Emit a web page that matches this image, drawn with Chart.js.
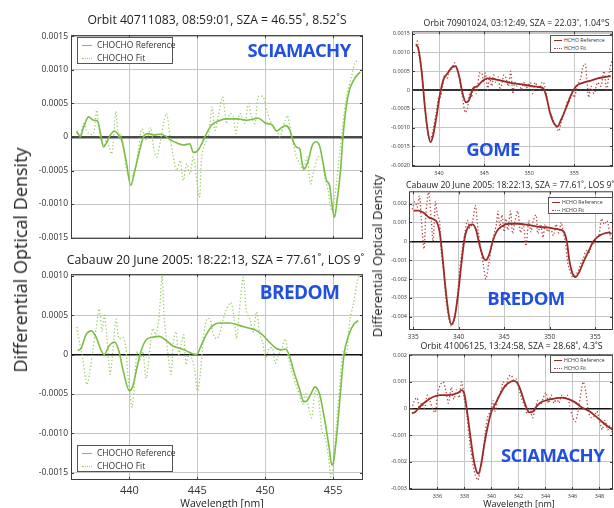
<!DOCTYPE html>
<html>
<head>
<meta charset="utf-8">
<script src="https://cdn.jsdelivr.net/npm/chart.js@4.4.1/dist/chart.umd.min.js"></script>
<style>
  body { margin: 0; width: 614px; height: 508px; overflow: hidden; position: relative; background: #fff;
         font-family: "Open Sans", "DejaVu Sans", sans-serif; color: #222; }
  canvas { position: absolute; }
  .txt { position: absolute; white-space: nowrap; }
  .ctr { transform: translate(-50%, -50%); }
  .inst { font-weight: 700; color: #2150e0; letter-spacing: -0.6px; }
  .ylab { transform: translate(-50%, -50%) rotate(-90deg); }
  .legend { position: absolute; border: 1px solid #555; background: #fff; box-sizing: border-box; }
  .legend .row { position: absolute; white-space: nowrap; color: #333; }
  .legend .smp { position: absolute; height: 0; }
</style>
</head>
<body>
<script>
// --- CHOCHO, SCIAMACHY (haut gauche) ---
const glySciaRefWl = [436.1, 436.4, 436.6, 437.0, 437.35, 437.65, 437.85, 438.1, 438.3, 438.6, 438.9, 439.2, 439.45, 439.75, 440.1, 440.4, 440.8, 441.1, 441.4, 441.75, 442.25, 442.6, 443.0, 443.5, 444.0, 444.45, 444.7, 445.0, 445.3, 445.7, 446.05, 446.55, 447.15, 447.9, 448.6, 449.5, 450.0, 450.5, 450.85, 451.2, 451.5, 451.8, 452.05, 452.3, 452.55, 452.7, 452.85, 453.15, 453.45, 453.75, 454.0, 454.25, 454.5, 454.75, 454.9, 455.1, 455.3, 455.55, 455.7, 455.95, 456.2, 456.55, 456.8, 457.0];
const glySciaRef = [0.00008, 0.00001, 0.00013, 0.0003, 0.00025, 0.00024, 0.00008, -0.00015, -0.00009, 0.00003, 0.00009, 0.00003, -0.00006, -0.00035, -0.00072, -0.0005, -0.00016, 0.00003, 0.00005, 0.00003, 0.00004, 0.00002, -0.00004, -0.00009, -0.00012, -0.0001, -0.00023, -0.00021, -0.00011, 0.00006, 0.00018, 0.00024, 0.00027, 0.00027, 0.00025, 0.00028, 0.00021, 0.00018, 0.00009, 0.00014, 0.00017, 0.00011, -0.00006, -0.00015, -0.00018, -0.00037, -0.00048, -0.00037, -0.00013, -0.00007, -0.00013, -0.00037, -0.00064, -0.00073, -0.00098, -0.0012, -0.00093, -0.00049, -0.00006, 0.00043, 0.0007, 0.00086, 0.00093, 0.00097];
const glySciaFitWl = [436.13, 436.37, 436.62, 436.99, 437.35, 437.6, 437.84, 438.09, 438.33, 438.7, 438.99, 439.19, 439.36, 439.61, 439.85, 440.12, 440.42, 440.66, 440.91, 441.27, 441.57, 441.81, 442.01, 442.25, 442.57, 442.75, 442.99, 443.24, 443.48, 443.73, 443.97, 444.22, 444.46, 444.71, 445.15, 445.32, 445.56, 445.81, 446.1, 446.3, 446.54, 446.86, 447.16, 447.4, 447.65, 447.84, 448.14, 448.5, 448.75, 449.0, 449.24, 449.49, 449.85, 450.1, 450.47, 450.83, 451.08, 451.32, 451.62, 451.86, 452.06, 452.3, 452.55, 452.79, 453.09, 453.33, 453.58, 453.9, 454.14, 454.39, 454.63, 454.88, 455.12, 455.29, 455.61, 455.98, 456.35, 456.6, 456.84];
const glySciaFit = [0.0001, 0.0, 0.0002, 0.00005, 0.00005, 0.0004, 0.0, -0.00012, -0.00005, -0.00025, 0.00038, 0.0, 0.00005, -0.0002, -0.00055, -0.0006, -0.0005, -0.0002, 0.00012, -0.00005, 0.00014, -0.0002, -0.0003, -0.0001, 0.00025, 0.00035, 0.0, -0.0003, -0.0005, -0.00035, -0.00065, -0.0004, -0.00055, -0.0003, -0.0009, -0.0003, -0.0001, 0.0, 0.00045, 0.0001, 0.0003, 0.0006, 0.0002, 0.00035, 0.0003, 0.00005, 0.00035, 0.0002, 0.0005, 0.0003, 0.0002, 0.0006, 0.0006, 0.0004, 0.0002, 0.0001, 0.0, 0.00015, 0.00032, 0.0001, -0.0001, -0.0003, -0.0004, -0.0005, -0.0003, -0.0007, -0.0005, -0.0003, -0.0003, -0.0006, -0.0008, -0.0011, -0.0009, -0.0006, 0.0, 0.0006, 0.0009, 0.0011, 0.00115];

// --- CHOCHO, BREDOM (bas gauche) ---
const glyBredRefWl = [436.2, 436.45, 436.8, 437.2, 437.55, 437.9, 438.15, 438.5, 438.9, 439.2, 439.55, 440.0, 440.25, 440.55, 440.85, 441.2, 441.7, 442.2, 442.7, 443.2, 443.7, 444.15, 444.65, 444.95, 445.25, 445.65, 446.1, 446.6, 447.35, 448.1, 448.7, 449.3, 449.8, 450.3, 450.8, 451.15, 451.5, 451.75, 452.1, 452.5, 452.85, 453.1, 453.5, 453.65, 454.0, 454.35, 454.7, 454.9, 455.05, 455.3, 455.55, 455.8, 456.2, 456.55, 456.85];
const glyBredRef = [0.00005, 0.00008, 0.00025, 0.0003, 0.00022, 0.00006, 0.0, 0.00011, 0.00016, 0.00006, -0.00021, -0.00046, -0.0004, -0.00017, 0.00004, 0.00018, 0.00022, 0.00023, 0.00018, 0.00011, 0.00008, 0.00005, 0.00001, 0.0, 0.0001, 0.00025, 0.00036, 0.0004, 0.0004, 0.00037, 0.00034, 0.00031, 0.00025, 0.00016, 0.00008, 0.00006, 0.00007, 0.0, -0.00021, -0.00042, -0.0006, -0.00058, -0.00045, -0.00041, -0.0005, -0.0008, -0.00117, -0.0014, -0.00134, -0.00096, -0.00046, 0.0, 0.00027, 0.00039, 0.00043];
const glyBredFitWl = [436.13, 436.32, 436.57, 436.86, 437.06, 437.3, 437.55, 437.79, 437.99, 438.16, 438.33, 438.58, 438.77, 439.02, 439.22, 439.51, 439.71, 439.88, 440.07, 440.2, 440.37, 440.56, 440.74, 440.98, 441.23, 441.47, 441.72, 441.96, 442.21, 442.4, 442.57, 442.82, 443.06, 443.24, 443.43, 443.63, 443.8, 444.0, 444.17, 444.36, 444.61, 444.78, 445.02, 445.22, 445.44, 445.69, 445.93, 446.13, 446.37, 446.62, 446.91, 447.16, 447.48, 447.72, 447.89, 448.09, 448.38, 448.63, 448.87, 449.12, 449.36, 449.61, 449.8, 450.05, 450.29, 450.54, 450.74, 450.98, 451.23, 451.47, 451.72, 451.96, 452.26, 452.5, 452.75, 452.99, 453.24, 453.43, 453.68, 453.92, 454.17, 454.41, 454.66, 454.83, 455.02, 455.25, 455.49, 455.74, 455.98, 456.23, 456.47, 456.72, 456.91];
const glyBredFit = [0.00035, 0.00016, -0.00005, -0.00038, -0.00025, 0.00004, 0.00033, 0.00058, 0.00029, 0.0005, 0.00025, -0.00025, 0.00004, 0.00045, 0.0002, 0.00022, 0.00012, -0.00025, -0.00055, -0.00067, -0.00038, 0.00004, -0.00009, 0.00004, -0.0003, 0.0, 0.00033, 0.00025, 0.00054, 0.001, 0.00045, 0.00004, -0.00025, 0.00016, 0.00029, 0.0, 0.00012, 0.00025, -0.00013, 0.0, -0.00005, -0.00017, -0.00046, -0.00025, 0.0002, 0.00045, 0.00045, 0.00029, 0.0002, 0.00025, 0.00045, 0.00058, 0.00066, 0.00045, 0.0002, 0.00054, 0.00098, 0.00054, 0.00045, 0.00029, 0.00054, 0.00025, 0.00016, -0.00005, 0.00008, 0.00008, -0.00011, 0.0, 0.00008, 0.0002, -0.00005, -0.00021, -0.00038, -0.0005, -0.00063, -0.0005, -0.00071, -0.0008, -0.00046, -0.00055, -0.00096, -0.00105, -0.0013, -0.00155, -0.0014, -0.00088, -0.00038, 0.00004, 0.0, 0.00045, 0.00062, 0.00087, 0.001];

// --- HCHO, GOME (haut droite) ---
const hchoGomeRefWl = [337.45, 337.7, 338.07, 338.43, 338.8, 339.05, 339.34, 339.7, 340.07, 340.5, 340.99, 341.46, 341.83, 342.19, 342.63, 342.99, 343.36, 343.72, 344.27, 344.82, 345.37, 346.1, 347.0, 348.1, 349.2, 350.3, 351.0, 351.57, 351.93, 352.3, 352.78, 353.14, 353.58, 354.13, 354.6, 355.22, 355.95, 356.86, 357.6, 358.32, 359.05];
const hchoGomeRef = [0.0012, 0.0011, 0.0005, -0.00046, -0.00117, -0.00139, -0.00121, -0.00073, -0.00016, 0.00028, 0.00046, 0.00061, 0.00063, 0.00041, -0.00011, -0.00033, -0.00025, 0.00002, 0.0001, 0.00024, 0.00031, 0.00029, 0.00024, 0.00018, 0.00015, 0.0001, 0.00008, 0.00004, -0.0002, -0.0006, -0.0009, -0.00097, -0.00077, -0.00046, -0.00016, 0.0001, 0.00019, 0.00025, 0.00031, 0.00034, 0.00037];
const hchoGomeFitWl = [337.45, 337.6, 337.8, 338.1, 338.45, 338.8, 339.05, 339.3, 339.7, 339.95, 340.15, 340.4, 340.6, 340.9, 341.1, 341.4, 341.7, 341.95, 342.2, 342.6, 342.9, 343.15, 343.4, 343.6, 343.85, 344.1, 344.3, 344.5, 344.75, 344.95, 345.15, 345.4, 345.6, 345.85, 346.05, 346.3, 346.55, 346.8, 347.0, 347.2, 347.45, 347.7, 347.95, 348.2, 348.4, 348.65, 348.9, 349.15, 349.4, 349.65, 349.9, 350.15, 350.4, 350.65, 350.9, 351.15, 351.4, 351.6, 351.9, 352.2, 352.5, 352.8, 353.05, 353.3, 353.5, 353.75, 354.0, 354.25, 354.5, 354.75, 355.0, 355.33, 355.7, 355.95, 356.2, 356.4, 356.6, 356.86, 357.2, 357.6, 357.96, 358.3, 358.6, 358.9, 359.2];
const hchoGomeFit = [0.0012, 0.0013, 0.0009, 0.0004, -0.0005, -0.0012, -0.0013, -0.0011, -0.0006, -0.0002, -0.0002, 0.0001, 0.0004, 0.0003, 0.0005, 0.00055, 0.00072, 0.0006, 0.0004, -0.0002, -0.0006, -0.0005, -0.0001, -0.0002, 0.0001, -0.0001, 0.00015, 0.00045, 0.00045, 0.0002, 0.00045, 0.0, 0.00035, 0.0001, 0.0004, 0.0002, 0.00035, 0.0, 0.0002, 0.0004, 0.0003, 0.0001, 0.0005, -0.0001, 0.0002, 0.0001, 0.00015, 0.0, 0.0002, 0.00005, 0.00012, 0.0002, -0.0001, 0.0002, 0.0001, 0.0, 0.0002, 0.0002, -0.0001, -0.0005, -0.0007, -0.0009, -0.001, -0.0011, -0.0009, -0.0007, -0.0005, -0.0003, -0.0003, -0.0001, -0.0002, 0.0001, 0.0003, 0.0006, 0.0007, 0.0003, -0.0002, 0.0001, -0.0001, 0.0002, 0.0001, 0.0005, 0.0, 0.0005, 0.0008];

// --- HCHO, BREDOM (milieu droite) ---
const hchoBredRefWl = [335.07, 335.6, 336.2, 336.7, 337.27, 337.6, 337.9, 338.2, 338.55, 338.9, 339.2, 339.57, 339.94, 340.3, 340.67, 341.1, 341.5, 341.9, 342.28, 342.75, 343.0, 343.37, 343.74, 344.2, 344.76, 345.5, 346.6, 347.7, 348.8, 349.9, 351.0, 351.5, 351.9, 352.15, 352.5, 352.8, 353.17, 353.7, 354.3, 354.8, 355.4, 355.9, 356.5, 356.8];
const hchoBredRef = [0.00163, 0.00163, 0.0015, 0.00128, 0.00116, 0.00103, 0.00054, -0.00068, -0.00244, -0.00384, -0.0044, -0.004, -0.0028, -0.0012, 0.0002, 0.0008, 0.0009, 0.00063, -0.00016, -0.0009, -0.001, -0.00068, 0.0, 0.00054, 0.0008, 0.00093, 0.00093, 0.00086, 0.00077, 0.00072, 0.00063, 0.00054, -0.00007, -0.001, -0.0017, -0.0019, -0.0017, -0.0011, -0.0005, 0.0, 0.00028, 0.0004, 0.00046, 0.0004];
const hchoBredFitWl = [334.9, 335.2, 335.45, 335.7, 335.9, 336.2, 336.4, 336.7, 337.0, 337.2, 337.45, 337.67, 337.9, 338.1, 338.36, 338.6, 338.9, 339.2, 339.5, 339.8, 340.1, 340.37, 340.67, 340.96, 341.25, 341.55, 341.84, 342.13, 342.4, 342.7, 343.0, 343.3, 343.6, 343.9, 344.14, 344.32, 344.54, 344.76, 345.0, 345.2, 345.4, 345.7, 345.93, 346.2, 346.5, 346.8, 347.1, 347.4, 347.7, 347.94, 348.2, 348.5, 348.7, 349.0, 349.26, 349.5, 349.8, 350.1, 350.4, 350.7, 351.0, 351.27, 351.5, 351.7, 352.0, 352.26, 352.5, 352.8, 353.1, 353.4, 353.7, 354.0, 354.3, 354.56, 354.85, 355.15, 355.4, 355.7, 356.0, 356.3, 356.6, 356.9];
const hchoBredFit = [0.0017, 0.0021, 0.0018, 0.0024, 0.0012, -0.0004, 0.0014, 0.0026, 0.0011, 0.0, 0.0021, 0.0014, 0.0011, -0.0006, -0.0016, -0.003, -0.004, -0.0045, -0.0042, -0.0033, -0.0016, -0.0005, 0.0004, 0.0011, 0.0007, 0.0011, 0.0019, 0.0006, -0.0003, -0.0012, -0.002, -0.0012, -0.0003, 0.0004, 0.0009, 0.0016, 0.0007, 0.0014, 0.0005, 0.0012, 0.0006, 0.0016, 0.0004, 0.0011, 0.0016, 0.00045, 0.0009, -0.00025, 0.0011, 0.0005, 0.0011, 0.0014, 0.0004, 0.0009, 0.0002, 0.0009, 0.0005, 0.0007, 0.0003, 0.0009, 0.00045, 0.001, 0.00045, 0.0, -0.0012, -0.0016, -0.0019, -0.0018, -0.0016, -0.0012, -0.0009, -0.0005, -0.0006, -0.00025, -0.0001, 0.0002, 0.0003, 0.0012, 0.0009, 0.0011, 0.0004, -0.0001];

// --- HCHO, SCIAMACHY (bas droite) ---
const hchoSciaRefWl = [334.11, 334.36, 334.73, 335.22, 335.71, 336.2, 336.7, 337.2, 337.57, 337.8, 338.0, 338.18, 338.43, 338.68, 338.92, 339.05, 339.24, 339.49, 339.74, 339.98, 340.28, 340.65, 341.02, 341.39, 341.64, 341.89, 342.13, 342.45, 342.7, 342.87, 343.12, 343.37, 343.74, 344.23, 344.73, 345.22, 345.71, 346.2, 346.7, 347.2, 347.69, 348.19, 348.68, 348.98];
const hchoSciaRef = [-0.00018, -0.00013, 0.00008, 0.00029, 0.00044, 0.0005, 0.0005, 0.00053, 0.0006, 0.00069, 0.00054, -0.00003, -0.001, -0.0019, -0.0024, -0.00246, -0.0021, -0.0013, -0.00065, -0.00015, 0.00016, 0.00054, 0.00085, 0.001, 0.00104, 0.00098, 0.00073, 0.00023, -0.00009, -0.00015, -0.00009, 0.0001, 0.00025, 0.00033, 0.00038, 0.00041, 0.00035, 0.00023, 0.00004, -0.00009, -0.00028, -0.0005, -0.0007, -0.0008];
const hchoSciaFitWl = [334.11, 334.3, 334.5, 334.68, 334.85, 335.05, 335.25, 335.44, 335.64, 335.84, 336.03, 336.23, 336.43, 336.63, 336.82, 337.03, 337.22, 337.42, 337.6, 337.8, 338.0, 338.2, 338.4, 338.6, 338.8, 339.0, 339.17, 339.37, 339.54, 339.74, 339.94, 340.1, 340.28, 340.48, 340.68, 340.87, 341.07, 341.27, 341.47, 341.66, 341.86, 342.06, 342.26, 342.45, 342.65, 342.85, 343.05, 343.24, 343.44, 343.64, 343.84, 344.04, 344.23, 344.43, 344.63, 344.83, 345.0, 345.22, 345.42, 345.6, 345.8, 346.0, 346.2, 346.4, 346.6, 346.8, 347.0, 347.2, 347.4, 347.6, 347.8, 348.0, 348.2, 348.4, 348.6, 348.8, 349.0];
const hchoSciaFit = [-0.00003, 0.0003, 0.0004, 0.0, 0.0002, 0.0, 0.0005, 0.0003, 0.0, -0.00015, 0.0006, 0.0009, 0.001, 0.00066, 0.0002, 0.0008, 0.00035, 0.0007, 0.0004, 0.001, 0.00035, -0.0003, -0.0013, -0.002, -0.0025, -0.0027, -0.0023, -0.0018, -0.0009, -0.0003, -0.0001, 0.0003, -0.0001, 0.0004, 0.0006, 0.001, 0.0008, 0.0012, 0.00125, 0.00105, 0.0011, 0.0007, 0.00035, 0.0001, -0.0002, 0.0, -0.00035, 0.0, 0.0003, 0.00015, 0.0004, 0.0006, 0.0002, 0.0005, 0.0002, 0.0004, 0.0002, 0.0005, 0.00035, 0.0005, 0.0001, -0.0003, -0.0005, -0.00015, 0.0005, 0.001, 0.0006, -0.00015, -0.00035, -0.0003, -0.0001, -0.00045, -0.0008, -0.00045, -0.0008, -0.00065, -0.001];

// graduations
const glyWlTicks = [440, 445, 450, 455];
const glySciaYTicks = [-0.0015, -0.001, -0.0005, 0, 0.0005, 0.001, 0.0015];
const glyBredYTicks = [-0.0015, -0.001, -0.0005, 0, 0.0005, 0.001];
const gomeWlTicks = [340, 345, 350, 355];
const gomeYTicks = [-0.002, -0.0015, -0.001, -0.0005, 0, 0.0005, 0.001, 0.0015];
const hchoBredWlTicks = [335, 340, 345, 350, 355];
const hchoBredYTicks = [-0.004, -0.003, -0.002, -0.001, 0, 0.001, 0.002];
const hchoSciaWlTicks = [336, 338, 340, 342, 344, 346, 348];
const hchoSciaYTicks = [-0.003, -0.002, -0.001, 0, 0.001, 0.002];

const GREEN = '#7bbd45', GREEN_FIT = '#9ccf68';
const RED = '#9b2b28', RED_FIT = '#b54540';

function pts(wl, v) {
    const n = Math.min(wl.length, v.length);
    const out = [];
    for (let i = 0; i < n; i++) out.push({ x: wl[i], y: v[i] });
    return out;
}

// cadre + petites graduations intérieures, façon Matlab
const framePlugin = {
    id: 'frame',
    afterDatasetsDraw(chart) {
        const { ctx, chartArea: a, scales: { x, y } } = chart;
        ctx.save();
        ctx.strokeStyle = '#3c3c3c';
        ctx.lineWidth = 1;
        ctx.strokeRect(a.left + 0.5, a.top + 0.5, a.right - a.left - 1, a.bottom - a.top - 1);
        ctx.beginPath();
        x.ticks.forEach(t => {
            const px = Math.round(x.getPixelForValue(t.value)) + 0.5;
            ctx.moveTo(px, a.bottom); ctx.lineTo(px, a.bottom - 3);
            ctx.moveTo(px, a.top); ctx.lineTo(px, a.top + 3);
        });
        y.ticks.forEach(t => {
            const py = Math.round(y.getPixelForValue(t.value)) + 0.5;
            ctx.moveTo(a.left, py); ctx.lineTo(a.left + 3, py);
            ctx.moveTo(a.right, py); ctx.lineTo(a.right - 3, py);
        });
        ctx.stroke();
        ctx.restore();
    }
};

function panel(p) {
    const c = document.createElement('canvas');
    c.width = p.w; c.height = p.h;
    c.style.left = p.left + 'px'; c.style.top = p.top + 'px';
    document.body.appendChild(c);
    return new Chart(c, {
        type: 'line',
        data: {
            datasets: [
                { label: p.names[0], data: pts(p.refWl, p.ref), borderColor: p.colors[0], borderWidth: p.refWidth || 1.6,
                  pointRadius: 0, cubicInterpolationMode: 'monotone' },
                { label: p.names[1], data: pts(p.fitWl, p.fit), borderColor: p.colors[1], borderWidth: 1.3,
                  borderDash: [1.3, 2.2], pointRadius: 0, tension: 0.3 },
            ],
        },
        options: {
            responsive: false,
            animation: false,
            devicePixelRatio: 1,
            layout: { padding: { top: p.padT, right: p.padR, left: 0, bottom: 0 } },
            plugins: { legend: { display: false }, tooltip: { enabled: false } },
            scales: {
                x: {
                    type: 'linear', min: p.xMin, max: p.xMax,
                    afterBuildTicks: s => { s.ticks = p.xTicks.map(v => ({ value: v })); },
                    afterFit: s => { s.height = p.padB; },
                    grid: { color: '#c6c6c6', drawTicks: false },
                    border: { display: false },
                    ticks: { display: p.xLabels, autoSkip: false, maxRotation: 0, padding: p.xPad,
                             color: '#333', font: { size: p.xFont, family: 'Open Sans' } },
                },
                y: {
                    type: 'linear', min: p.yMin, max: p.yMax,
                    afterBuildTicks: s => { s.ticks = p.yTicks.map(v => ({ value: v })); },
                    afterFit: s => { s.width = p.padL; },
                    grid: {
                        drawTicks: false,
                        color: ctx => ctx.tick && ctx.tick.value === 0 ? p.zeroColor : '#c6c6c6',
                        lineWidth: ctx => ctx.tick && ctx.tick.value === 0 ? p.zeroWidth : 1,
                    },
                    border: { display: false },
                    ticks: { autoSkip: false, padding: p.yPad, color: '#333',
                             font: { size: p.yFont, family: 'Open Sans' },
                             callback: v => v === 0 ? '0' : v.toFixed(p.dec) },
                },
            },
        },
        plugins: [framePlugin],
    });
}

function legend(box, names, colors, font, rowGap, sample) {
    const d = document.createElement('div');
    d.className = 'legend';
    Object.assign(d.style, { left: box[0] + 'px', top: box[1] + 'px', width: box[2] + 'px', height: box[3] + 'px' });
    names.forEach((n, i) => {
        const s = document.createElement('div');
        s.className = 'smp';
        Object.assign(s.style, { left: sample[0] + 'px', width: sample[1] + 'px', top: (sample[2] + i * rowGap) + 'px',
            borderTop: (i === 0 ? '1.5px solid ' : '1.5px dotted ') + colors[i] });
        d.appendChild(s);
        const r = document.createElement('div');
        r.className = 'row';
        r.textContent = n;
        Object.assign(r.style, { left: sample[3] + 'px', top: (sample[2] + i * rowGap - font * 0.7) + 'px', fontSize: font + 'px' });
        d.appendChild(r);
    });
    document.body.appendChild(d);
}

function text(str, x, y, size, extra) {
    const d = document.createElement('div');
    d.className = 'txt ctr ' + (extra || '');
    d.textContent = str;
    Object.assign(d.style, { left: x + 'px', top: y + 'px', fontSize: size + 'px' });
    document.body.appendChild(d);
    return d;
}

const leftCommon = { left: 25, w: 342, padL: 46, padR: 4, xMin: 435.7, xMax: 457.2, xTicks: glyWlTicks,
                     yFont: 8.5, yPad: 3, xFont: 11, xPad: 4, dec: 4, colors: [GREEN, GREEN_FIT],
                     names: ['CHOCHO Reference', 'CHOCHO Fit'] };
panel(Object.assign({}, leftCommon, {
    top: 27, h: 220, padT: 4, padB: 6, xLabels: false,
    yMin: -0.00152, yMax: 0.00152, yTicks: glySciaYTicks, zeroColor: '#4a4a4a', zeroWidth: 2.5,
    refWl: glySciaRefWl, ref: glySciaRef, fitWl: glySciaFitWl, fit: glySciaFit,
}));
panel(Object.assign({}, leftCommon, {
    top: 266, h: 234, padT: 5, padB: 20, xLabels: true,
    yMin: -0.00159, yMax: 0.00102, yTicks: glyBredYTicks, zeroColor: '#111', zeroWidth: 1.5,
    refWl: glyBredRefWl, ref: glyBredRef, fitWl: glyBredFitWl, fit: glyBredFit,
}));

const rightCommon = { left: 383, w: 231, padR: 1, yFont: 5.5, yPad: 2, xFont: 5.5, xPad: 3, xLabels: true,
                      colors: [RED, RED_FIT], names: ['HCHO Reference', 'HCHO Fit'], refWidth: 1.8 };
panel(Object.assign({}, rightCommon, {
    top: 26, h: 153, padL: 29, padT: 4, padB: 12, dec: 4,
    xMin: 337.0, xMax: 359.3, xTicks: gomeWlTicks,
    yMin: -0.00205, yMax: 0.00156, yTicks: gomeYTicks, zeroColor: '#333', zeroWidth: 2,
    refWl: hchoGomeRefWl, ref: hchoGomeRef, fitWl: hchoGomeFitWl, fit: hchoGomeFit,
}));
panel(Object.assign({}, rightCommon, {
    top: 186, h: 156, padL: 26, padT: 4, padB: 12, dec: 3, xFont: 6.5,
    xMin: 334.55, xMax: 356.95, xTicks: hchoBredWlTicks,
    yMin: -0.0047, yMax: 0.00265, yTicks: hchoBredYTicks, zeroColor: '#111', zeroWidth: 1.5,
    refWl: hchoBredRefWl, ref: hchoBredRef, fitWl: hchoBredFitWl, fit: hchoBredFit,
}));
panel(Object.assign({}, rightCommon, {
    top: 349, h: 153, padL: 26, padT: 4, padB: 12, dec: 3,
    xMin: 333.9, xMax: 349.0, xTicks: hchoSciaWlTicks,
    yMin: -0.00307, yMax: 0.00204, yTicks: hchoSciaYTicks, zeroColor: '#111', zeroWidth: 1.5,
    refWl: hchoSciaRefWl, ref: hchoSciaRef, fitWl: hchoSciaFitWl, fit: hchoSciaFit,
}));

// légendes
legend([77, 37, 96, 27], leftCommon.names, leftCommon.colors, 8.5, 13, [4, 10, 7, 19]);
legend([77, 445, 96, 27], leftCommon.names, leftCommon.colors, 8.5, 13, [4, 10, 7, 19]);
legend([550, 35, 63, 18], rightCommon.names, rightCommon.colors, 5.2, 8, [3, 8, 4, 13]);
legend([548, 197, 65, 17], rightCommon.names, rightCommon.colors, 5.2, 8, [3, 8, 4, 13]);
legend([550, 355, 63, 18], rightCommon.names, rightCommon.colors, 5.2, 8, [3, 8, 4, 13]);

// titres
text('Orbit 40711083, 08:59:01, SZA = 46.55˚, 8.52˚S', 217, 19, 12.2);
text('Cabauw 20 June 2005: 18:22:13, SZA = 77.61˚, LOS 9˚', 215.5, 259, 12.3);
text('Orbit 70901024, 03:12:49, SZA = 22.03˚, 1.04°S', 516.5, 23, 8.7);
text('Cabauw 20 June 2005: 18:22:13, SZA = 77.61˚, LOS 9˚', 510, 185, 8.6);
text('Orbit 41006125, 13:24:58, SZA = 28.68˚, 4.3˚S', 511.5, 346, 8.8);

// noms d'instruments
text('SCIAMACHY', 299, 49, 18.5, 'inst');
text('BREDOM', 299.5, 292, 19, 'inst');
text('GOME', 493, 148, 18.5, 'inst');
text('BREDOM', 526, 297, 18.5, 'inst');
text('SCIAMACHY', 552.5, 454, 18.5, 'inst');

// libellés d'axes
text('Differential Optical Density', 20, 260, 18, 'ylab');
text('Differential Optical Density', 377, 256, 13, 'ylab');
text('Wavelength [nm]', 222, 503, 10.5);
text('Wavelength [nm]', 519, 503, 9);
</script>
</body>
</html>
